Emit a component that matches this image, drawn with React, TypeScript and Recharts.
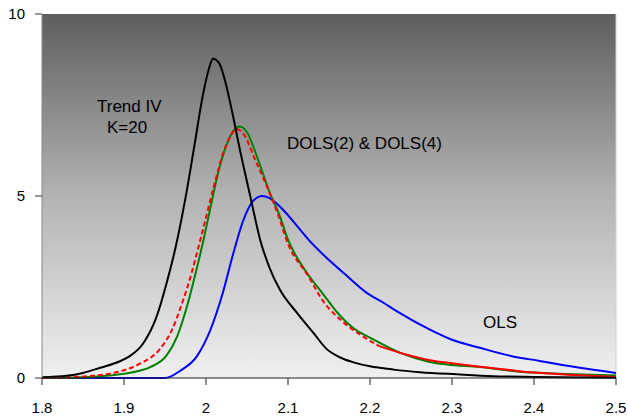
import { CartesianGrid, Line, LineChart, ReferenceLine, XAxis, YAxis } from "recharts";

const FONT = "'Liberation Sans', Arial, Helvetica, sans-serif";

const xTicks = [1.8, 1.9, 2, 2.1, 2.2, 2.3, 2.4, 2.5];
const yTicks = [0, 5, 10];

// Trend IV, K=20
const trendX = [1.8, 1.83, 1.85, 1.871, 1.895, 1.907, 1.924, 1.94, 1.952, 1.963, 1.975, 1.986, 1.996, 2.003, 2.0085, 2.016, 2.024, 2.032, 2.042, 2.054, 2.066, 2.078, 2.09, 2.111, 2.131, 2.147, 2.163, 2.18, 2.2, 2.229, 2.261, 2.306, 2.35, 2.4, 2.5];
const trendY = [0.02, 0.06, 0.14, 0.28, 0.46, 0.6, 0.97, 1.7, 2.61, 3.6, 4.95, 6.4, 7.75, 8.45, 8.77, 8.65, 8.1, 7.3, 6.2, 4.99, 3.8, 3.0, 2.43, 1.79, 1.24, 0.8, 0.57, 0.43, 0.32, 0.23, 0.16, 0.1, 0.05, 0.03, 0.01];

// DOLS(4)
const dols4X = [1.8, 1.85, 1.895, 1.915, 1.932, 1.952, 1.965, 1.976, 1.987, 1.997, 2.007, 2.016, 2.025, 2.034, 2.041, 2.05, 2.062, 2.078, 2.09, 2.1, 2.123, 2.143, 2.16, 2.178, 2.204, 2.237, 2.273, 2.294, 2.334, 2.383, 2.43, 2.5];
const dols4Y = [0, 0.02, 0.1, 0.18, 0.3, 0.62, 1.15, 1.9, 2.85, 3.8, 4.85, 5.75, 6.4, 6.8, 6.91, 6.75, 6.09, 5.08, 4.45, 3.8, 2.89, 2.3, 1.8, 1.4, 1.06, 0.69, 0.44, 0.37, 0.3, 0.17, 0.12, 0.07];

// DOLS(2)
const dols2X = [1.8, 1.85, 1.87, 1.895, 1.92, 1.944, 1.958, 1.97, 1.982, 1.992, 2.001, 2.01, 2.021, 2.03, 2.037, 2.046, 2.06, 2.076, 2.09, 2.098, 2.125, 2.143, 2.166, 2.188, 2.212, 2.245, 2.273, 2.302, 2.334, 2.37, 2.4, 2.45, 2.5];
const dols2Y = [0, 0.04, 0.08, 0.18, 0.4, 0.8, 1.3, 2.0, 2.85, 3.7, 4.5, 5.3, 6.18, 6.65, 6.84, 6.7, 5.99, 5.17, 4.35, 3.8, 2.79, 2.11, 1.56, 1.19, 0.87, 0.64, 0.49, 0.4, 0.31, 0.22, 0.15, 0.08, 0.03];

// OLS
const olsX = [1.8, 1.95, 1.968, 1.989, 2.005, 2.02, 2.033, 2.045, 2.057, 2.068, 2.077, 2.09, 2.115, 2.125, 2.149, 2.172, 2.196, 2.217, 2.233, 2.273, 2.3, 2.334, 2.373, 2.407, 2.456, 2.5];
const olsY = [0, 0, 0.19, 0.6, 1.3, 2.3, 3.4, 4.3, 4.85, 5.0, 4.95, 4.71, 4.07, 3.8, 3.26, 2.8, 2.34, 2.06, 1.83, 1.33, 1.05, 0.83, 0.6, 0.47, 0.28, 0.14];

const DASH_END = 2.212;

const toPoints = (xs: number[], ys: number[]) => xs.map((x, i) => ({ x, y: ys[i] }));

const trend = toPoints(trendX, trendY);
const dols4 = toPoints(dols4X, dols4Y);
const dols2 = toPoints(dols2X, dols2Y);
const ols = toPoints(olsX, olsY);

const tickStyle = { fill: "#000", fontSize: 15, fontFamily: FONT };

export default function App() {
  return (
    <div style={{ position: "absolute", left: 0, top: 0, width: 628, height: 420, background: "#fff" }}>
      <LineChart width={628} height={420} margin={{ top: 14, right: 12, bottom: 0, left: 0 }}>
        <defs>
          <linearGradient id="plotBg" x1="0" y1="0" x2="0" y2="1">
            <stop offset="0%" stopColor="#5e5e5e" />
            <stop offset="50%" stopColor="#b3b3b3" />
            <stop offset="100%" stopColor="#f0f0f0" />
          </linearGradient>
        </defs>
        <CartesianGrid horizontal={false} vertical={false} fill="url(#plotBg)" fillOpacity={1} />
        <XAxis
          type="number"
          dataKey="x"
          domain={[1.8, 2.5]}
          ticks={xTicks}
          allowDuplicatedCategory={false}
          height={42}
          tickSize={7}
          tickMargin={17}
          tick={tickStyle}
          stroke="#222"
          interval={0}
        />
        <YAxis
          type="number"
          domain={[0, 10]}
          ticks={yTicks}
          width={42}
          tickSize={7}
          tickMargin={10}
          tick={tickStyle}
          stroke="#888"
          tickLine={{ stroke: "#333" }}
          interval={0}
        />
        <ReferenceLine x={2.5} stroke="#d0d0d0" strokeWidth={1} />
        <Line data={ols} dataKey="y" type="monotone" stroke="#0000ff" strokeWidth={2} dot={false} isAnimationActive={false} />
        <Line data={dols4} dataKey="y" type="monotone" stroke="#008000" strokeWidth={2} dot={false} isAnimationActive={false} />
        <Line
          data={dols2.filter((p) => p.x <= DASH_END)}
          dataKey="y"
          type="monotone"
          stroke="#ff0000"
          strokeWidth={2}
          strokeDasharray="5 3"
          dot={false}
          isAnimationActive={false}
        />
        <Line
          data={dols2.filter((p) => p.x >= DASH_END)}
          dataKey="y"
          type="monotone"
          stroke="#ff0000"
          strokeWidth={2}
          dot={false}
          isAnimationActive={false}
        />
        <Line data={trend} dataKey="y" type="monotone" stroke="#000" strokeWidth={2} dot={false} isAnimationActive={false} />
      </LineChart>
      <svg width={628} height={420} style={{ position: "absolute", left: 0, top: 0, pointerEvents: "none" }}>
        <g fontFamily={FONT} fontSize={17} fill="#000">
          <text x={97} y={112}>Trend IV</text>
          <text x={107} y={133}>K=20</text>
          <text x={287} y={149}>DOLS(2) &amp; DOLS(4)</text>
          <text x={483} y={328}>OLS</text>
        </g>
      </svg>
    </div>
  );
}
